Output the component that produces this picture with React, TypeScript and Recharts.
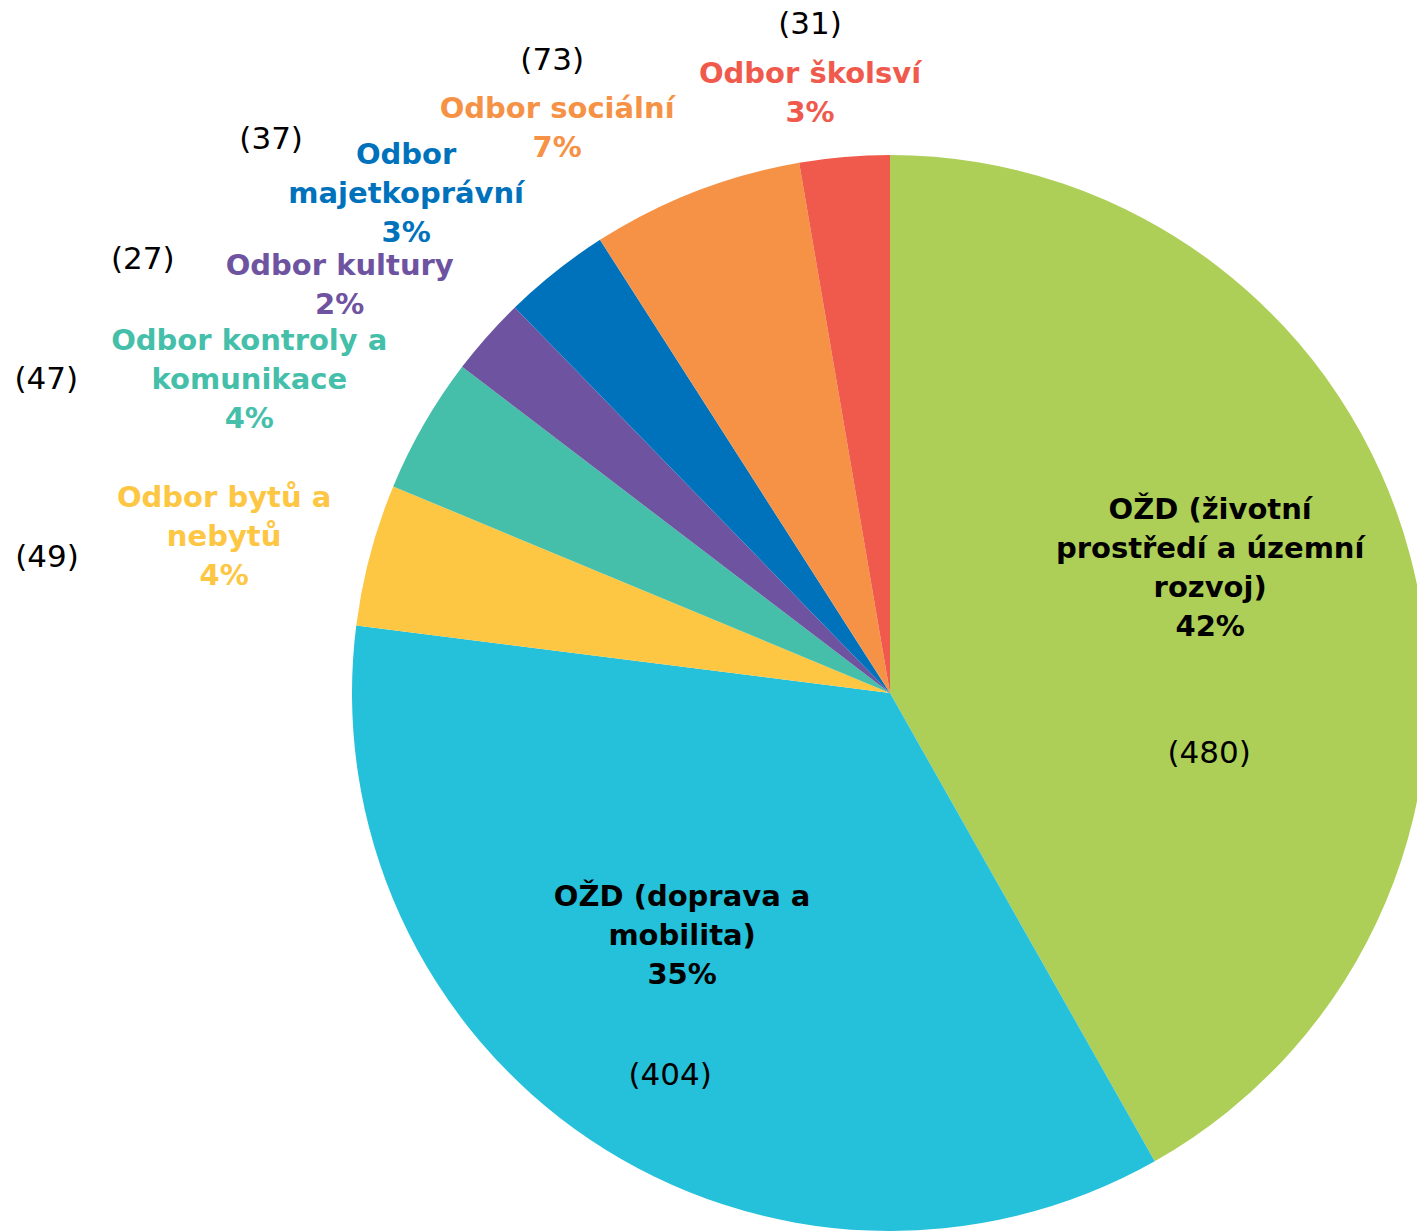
import { PieChart, Pie, Cell } from 'recharts';

// departments, clockwise from 12 o'clock
const categories = [
  'OŽD (životní\nprostředí a územní\nrozvoj)',
  'OŽD (doprava a\nmobilita)',
  'Odbor bytů a\nnebytů',
  'Odbor kontroly a\nkomunikace',
  'Odbor kultury',
  'Odbor\nmajetkoprávní',
  'Odbor sociální',
  'Odbor školsví',
];
const counts = [480, 404, 49, 47, 27, 37, 73, 31];
const percentLabels = ['42%', '35%', '4%', '4%', '2%', '3%', '7%', '3%'];
const colors = ['#ADCF57', '#25C0D9', '#FDC643', '#45BFA9', '#6E53A1', '#0072BC', '#F69246', '#F05A4C'];
const textColors = ['#000', '#000', '#FDC643', '#45BFA9', '#6E53A1', '#0072BC', '#F69246', '#F05A4C'];

// label placement: anchor at k * outerRadius along the slice mid angle, then shifted
const labelLayout = [
  { k: 0.65, dx: -18, dy: -37, cdx: -19, cdy: 148 },
  { k: 0.65, dx: -13, dy: -48, cdx: -25, cdy: 91 },
  { k: 1.25, dx: -16, dy: 16, cdx: -193, cdy: 36 },
  { k: 1.25, dx: -58, dy: 22, cdx: -261, cdy: 21 },
  { k: 1.25, dx: -47, dy: 38, cdx: -244, cdy: 11 },
  { k: 1.25, dx: -66, dy: 27, cdx: -201, cdy: -28 },
  { k: 1.25, dx: -90, dy: 62, cdx: -95, cdy: -7 },
  { k: 1.25, dx: -23, dy: 70, cdx: -23, cdy: 0 },
];

const data = categories.map((name, i) => ({ name, value: counts[i] }));

const RAD = Math.PI / 180;
const LINE = 39;

const renderLabel = (props: any) => {
  const { cx, cy, midAngle, outerRadius, index } = props;
  const lay = labelLayout[index];
  const r = outerRadius * lay.k;
  const ax = cx + r * Math.cos(-midAngle * RAD);
  const ay = cy + r * Math.sin(-midAngle * RAD);
  const lines = [...categories[index].split('\n'), percentLabels[index]];
  const bx = ax + lay.dx;
  const by = ay + lay.dy;
  return (
    <g>
      <text
        textAnchor="middle"
        dominantBaseline="central"
        fill={textColors[index]}
        fontFamily="'DejaVu Sans', sans-serif"
        fontWeight={700}
        fontSize={29}
      >
        {lines.map((t, i) => (
          <tspan key={i} x={bx} y={by + (i - (lines.length - 1) / 2) * LINE}>
            {t}
          </tspan>
        ))}
      </text>
      <text
        x={ax + lay.cdx}
        y={ay + lay.cdy}
        textAnchor="middle"
        dominantBaseline="central"
        fill="#000"
        fontFamily="'DejaVu Sans', sans-serif"
        fontSize={31}
      >
        ({counts[index]})
      </text>
    </g>
  );
};

const App = () => {
  return (
    <div style={{ width: 1417, height: 1231, background: '#fff', overflow: 'hidden' }}>
      <style>{'body{margin:0}'}</style>
      <PieChart width={1417} height={1231} margin={{ top: 0, right: 0, bottom: 0, left: 0 }}>
        <Pie
          data={data}
          dataKey="value"
          nameKey="name"
          cx={890}
          cy={693}
          outerRadius={538}
          startAngle={90}
          endAngle={-270}
          stroke="none"
          labelLine={false}
          label={renderLabel}
          isAnimationActive={false}
        >
          {data.map((d, i) => (
            <Cell key={d.name} fill={colors[i]} />
          ))}
        </Pie>
      </PieChart>
    </div>
  );
};

export default App;
